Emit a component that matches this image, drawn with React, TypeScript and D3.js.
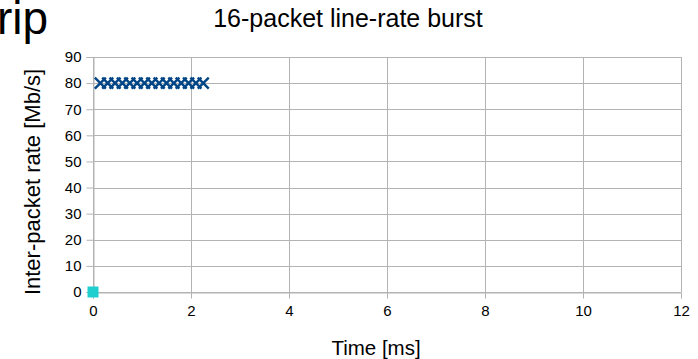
import React, { useEffect, useRef } from "react";
import { select, scaleLinear, axisLeft, axisBottom, symbol, symbolSquare } from "d3";

const burstTimes = [0.15, 0.3, 0.45, 0.6, 0.75, 0.9, 1.05, 1.2, 1.35, 1.5, 1.65, 1.8, 1.95, 2.1, 2.25];
const burstRates = [80, 80, 80, 80, 80, 80, 80, 80, 80, 80, 80, 80, 80, 80, 80];
const firstTimes = [0];
const firstRates = [0];
const xTicks = [0, 2, 4, 6, 8, 10, 12];
const yTicks = [0, 10, 20, 30, 40, 50, 60, 70, 80, 90];

const W = 698;
const H = 359;
const FONT = "'Liberation Sans', Arial, sans-serif";

function BurstChart() {
  const svgRef = useRef<SVGSVGElement>(null);

  useEffect(() => {
    const svg = select(svgRef.current);
    svg.selectAll("*").remove();

    const x = scaleLinear().domain([0, 12]).range([93, 681]);
    const y = scaleLinear().domain([0, 90]).range([292, 57]);

    // grid
    const grid = svg.append("g").attr("stroke", "#b3b3b3").attr("stroke-width", 1);
    grid
      .selectAll(".hg")
      .data(yTicks)
      .join("line")
      .attr("x1", x(0))
      .attr("x2", x(12))
      .attr("y1", (d) => Math.round(y(d)) + 0.5)
      .attr("y2", (d) => Math.round(y(d)) + 0.5);
    grid
      .selectAll(".vg")
      .data(xTicks)
      .join("line")
      .attr("x1", (d) => Math.round(x(d)) + 0.5)
      .attr("x2", (d) => Math.round(x(d)) + 0.5)
      .attr("y1", y(90))
      .attr("y2", y(0));

    const yAxis = axisLeft(y).tickValues(yTicks).tickSize(7).tickPadding(5);
    const gy = svg.append("g").call(yAxis);
    const xAxis = axisBottom(x).tickValues(xTicks).tickSize(6).tickPadding(7);
    const gx = svg.append("g").call(xAxis);
    gy.attr("transform", `translate(${Math.round(x(0)) + 0.5},0)`);
    gx.attr("transform", `translate(0,${Math.round(y(0)) + 0.5})`);
    [gx, gy].forEach((g) => {
      g.select(".domain").attr("stroke", "#b3b3b3");
      g.selectAll(".tick line").attr("stroke", "#b3b3b3");
      g.selectAll(".tick text")
        .attr("fill", "#000")
        .style("font-family", FONT)
        .style("font-size", "15px");
    });

    // cross markers
    const pts = burstTimes.map((t, i) => [t, burstRates[i]]);
    const s = 5.5;
    svg
      .append("g")
      .selectAll("path")
      .data(pts)
      .join("path")
      .attr("d", (d) => {
        const cx = x(d[0]);
        const cy = y(d[1]);
        return `M${cx - s},${cy - s}L${cx + s},${cy + s}M${cx - s},${cy + s}L${cx + s},${cy - s}`;
      })
      .attr("stroke", "#004586")
      .attr("stroke-width", 2.4)
      .attr("fill", "none");

    svg
      .append("g")
      .selectAll("path")
      .data(firstTimes.map((t, i) => [t, firstRates[i]]))
      .join("path")
      .attr("transform", (d) => `translate(${x(d[0])},${y(d[1])})`)
      .attr("d", symbol(symbolSquare, 121)())
      .attr("fill", "#1fcfcf");

    // texts
    svg
      .append("text")
      .attr("x", -3)
      .attr("y", 34)
      .style("font-family", FONT)
      .style("font-size", "46px")
      .text("rip");
    svg
      .append("text")
      .attr("x", 348)
      .attr("y", 27)
      .attr("text-anchor", "middle")
      .style("font-family", FONT)
      .style("font-size", "25px")
      .text("16-packet line-rate burst");
    svg
      .append("text")
      .attr("x", 376)
      .attr("y", 355)
      .attr("text-anchor", "middle")
      .style("font-family", FONT)
      .style("font-size", "20.5px")
      .text("Time [ms]");
    svg
      .append("text")
      .attr("transform", "translate(40,182) rotate(-90)")
      .attr("text-anchor", "middle")
      .style("font-family", FONT)
      .style("font-size", "22px")
      .text("Inter-packet rate [Mb/s]");
  }, []);

  return <svg ref={svgRef} width={W} height={H} style={{ display: "block", background: "#fff" }} />;
}

export default function App() {
  return (
    <div style={{ position: "absolute", left: 0, top: 0 }}>
      <BurstChart />
    </div>
  );
}
